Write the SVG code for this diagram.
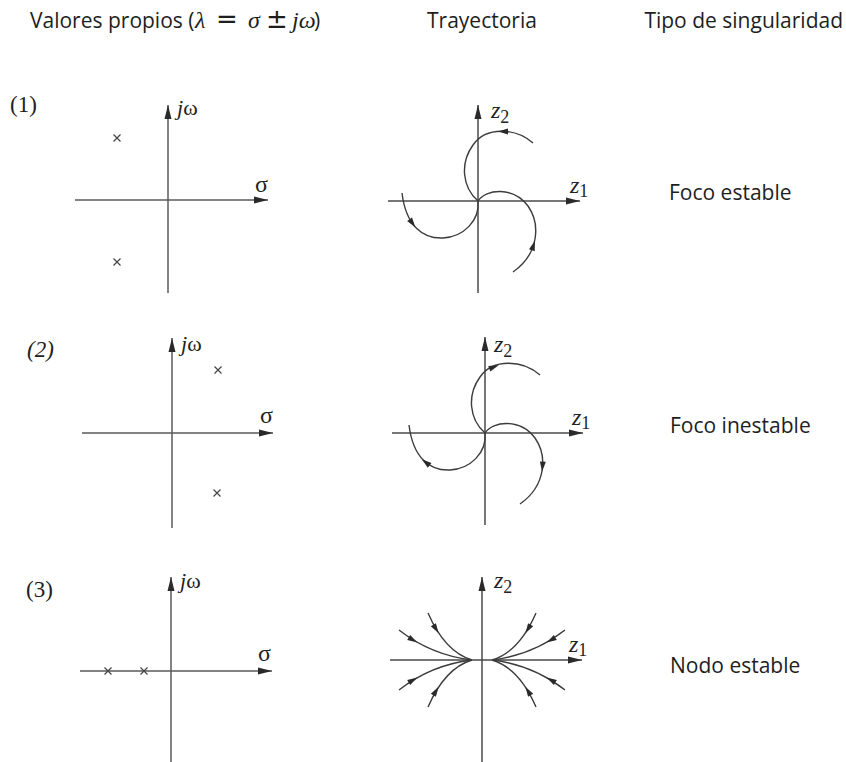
<svg xmlns="http://www.w3.org/2000/svg" xmlns:xlink="http://www.w3.org/1999/xlink" width="846" height="762" viewBox="0 0 846 762">
  <style>
    .hdr { font-family: "Open Sans", "Liberation Sans", sans-serif; font-size: 21px; fill: #1e1e1e; }
    .math { font-family: "Liberation Serif", "DejaVu Serif", serif; font-style: italic; font-size: 24px; }
    .op { font-family: "DejaVu Sans", "Liberation Sans", sans-serif; font-style: normal; font-size: 26px; }
    .lbl { font-family: "Open Sans", "Liberation Sans", sans-serif; font-size: 21px; fill: #1e1e1e; }
    .num { font-family: "Liberation Serif", "DejaVu Serif", serif; font-size: 23px; fill: #222; }
    .ax { font-family: "Liberation Serif", "DejaVu Serif", serif; fill: #222; }
    .axis { stroke: #4a4a4a; stroke-width: 1.5; fill: none; marker-end: url(#tip); }
    .paxis { stroke: #5a5a5a; stroke-width: 1.5; fill: none; marker-end: url(#tip); }
    .curve { stroke: #3c3c3c; stroke-width: 1.4; fill: none; }
    .pole { stroke: #444; stroke-width: 1.2; fill: none; }
    .ah { fill: #2a2a2a; }
  </style>
  <defs>
    <marker id="tip" markerUnits="userSpaceOnUse" markerWidth="15" markerHeight="8" refX="14" refY="4" orient="auto">
      <path d="M0,0.5 L14,4 L0,7.5 Z" fill="#2a2a2a"/>
    </marker>
    <path id="ah" class="ah" d="M5,0 L-5,-3 L-5,3 Z"/>
    <path id="x" class="pole" d="M-3.5,-3.5 L3.5,3.5 M-3.5,3.5 L3.5,-3.5"/>
    <g id="spiral">
      <path class="curve" d="M55,-58 C38,-73 8,-75 -5,-56 C-18,-38 -16,-14 0,0"/>
      <path class="curve" d="M0,0 C8,-12 35,-15 50,5 C62,22 62,52 35,71"/>
      <path class="curve" d="M0,0 C2,20 -15,36 -35,37 C-55,38 -72,25 -76,-8"/>
    </g>
    <g id="quad">
      <path class="curve" d="M-54,-47 C-44,-24 -30,-6 -10,0"/>
      <path class="curve" d="M-83,-30 C-60,-12 -35,-3 -10,0"/>
      <use xlink:href="#ah" transform="translate(-46,-31) rotate(58)"/>
      <use xlink:href="#ah" transform="translate(-69,-20) rotate(30)"/>
    </g>
  </defs>

  <rect width="846" height="762" fill="#ffffff"/>

  <g id="header">
    <text class="hdr" x="30" y="28">Valores propios (</text>
    <text class="hdr" y="28"><tspan class="math" x="195">λ</tspan><tspan class="op" x="216">=</tspan><tspan class="math" x="248">σ</tspan><tspan class="op" x="266">±</tspan><tspan class="math" x="292">jω</tspan><tspan x="314">)</tspan></text>
    <text class="hdr" x="427" y="28">Trayectoria</text>
    <text class="hdr" x="843" y="28" text-anchor="end">Tipo de singularidad</text>
  </g>

  <!-- Row 1 -->
  <g id="poles-1">
    <text class="num" x="10" y="112">(1)</text>
    <line class="paxis" x1="75" y1="200" x2="268" y2="200"/>
    <line class="paxis" x1="168" y1="293" x2="168" y2="105"/>
    <text class="ax" x="177" y="115" font-size="22"><tspan font-style="italic">j</tspan>ω</text>
    <text class="ax" x="255" y="192" font-size="24">σ</text>
    <use xlink:href="#x" x="117" y="138"/>
    <use xlink:href="#x" x="117" y="262"/>
  </g>
  <g id="trajectory-1">
    <line class="axis" x1="388" y1="201" x2="580" y2="201"/>
    <line class="axis" x1="478" y1="293" x2="478" y2="105"/>
    <text class="ax" x="491" y="118" font-size="24"><tspan font-style="italic">z</tspan><tspan font-size="18" dy="5">2</tspan></text>
    <text class="ax" x="570" y="193" font-size="24"><tspan font-style="italic">z</tspan><tspan font-size="18" dy="4">1</tspan></text>
    <g transform="translate(478,201)">
      <use xlink:href="#spiral"/>
      <use xlink:href="#ah" transform="translate(25,-69.5) rotate(180)"/>
      <use xlink:href="#ah" transform="translate(-65.5,22.4) rotate(54.5)"/>
      <use xlink:href="#ah" transform="translate(55.4,44.5) rotate(-72)"/>
    </g>
  </g>
  <g id="type-1">
    <text class="lbl" x="669" y="200">Foco estable</text>
  </g>

  <!-- Row 2 -->
  <g id="poles-2">
    <text class="num" x="27" y="357" font-style="italic">(2)</text>
    <line class="paxis" x1="82" y1="433" x2="273" y2="433"/>
    <line class="paxis" x1="172" y1="528" x2="172" y2="338"/>
    <text class="ax" x="181" y="351" font-size="22"><tspan font-style="italic">j</tspan>ω</text>
    <text class="ax" x="260" y="423" font-size="24">σ</text>
    <use xlink:href="#x" x="218" y="370"/>
    <use xlink:href="#x" x="217" y="493"/>
  </g>
  <g id="trajectory-2">
    <line class="axis" x1="392" y1="433" x2="583" y2="433"/>
    <line class="axis" x1="485" y1="525" x2="485" y2="337"/>
    <text class="ax" x="494" y="352" font-size="24"><tspan font-style="italic">z</tspan><tspan font-size="18" dy="5">2</tspan></text>
    <text class="ax" x="572" y="425" font-size="24"><tspan font-style="italic">z</tspan><tspan font-size="18" dy="4">1</tspan></text>
    <g transform="translate(485,433)">
      <use xlink:href="#spiral"/>
      <use xlink:href="#ah" transform="translate(9,-66) rotate(-20)"/>
      <use xlink:href="#ah" transform="translate(-59.3,29.3) rotate(-142)"/>
      <use xlink:href="#ah" transform="translate(57.5,33.6) rotate(94)"/>
    </g>
  </g>
  <g id="type-2">
    <text class="lbl" x="670" y="433">Foco inestable</text>
  </g>

  <!-- Row 3 -->
  <g id="poles-3">
    <text class="num" x="26" y="597">(3)</text>
    <line class="paxis" x1="80" y1="671" x2="272" y2="671"/>
    <line class="paxis" x1="171" y1="762" x2="171" y2="577"/>
    <text class="ax" x="180" y="588" font-size="22"><tspan font-style="italic">j</tspan>ω</text>
    <text class="ax" x="258" y="661" font-size="24">σ</text>
    <use xlink:href="#x" x="108" y="671"/>
    <use xlink:href="#x" x="144" y="671"/>
  </g>
  <g id="trajectory-3">
    <line class="axis" x1="390" y1="660" x2="582" y2="660"/>
    <line class="axis" x1="482" y1="762" x2="482" y2="577"/>
    <text class="ax" x="494" y="588" font-size="24"><tspan font-style="italic">z</tspan><tspan font-size="18" dy="5">2</tspan></text>
    <text class="ax" x="569" y="652" font-size="24"><tspan font-style="italic">z</tspan><tspan font-size="18" dy="4">1</tspan></text>
    <g transform="translate(482,660)">
      <use xlink:href="#quad"/>
      <use xlink:href="#quad" transform="scale(-1,1)"/>
      <use xlink:href="#quad" transform="scale(1,-1)"/>
      <use xlink:href="#quad" transform="scale(-1,-1)"/>
    </g>
  </g>
  <g id="type-3">
    <text class="lbl" x="670" y="673">Nodo estable</text>
  </g>
</svg>
